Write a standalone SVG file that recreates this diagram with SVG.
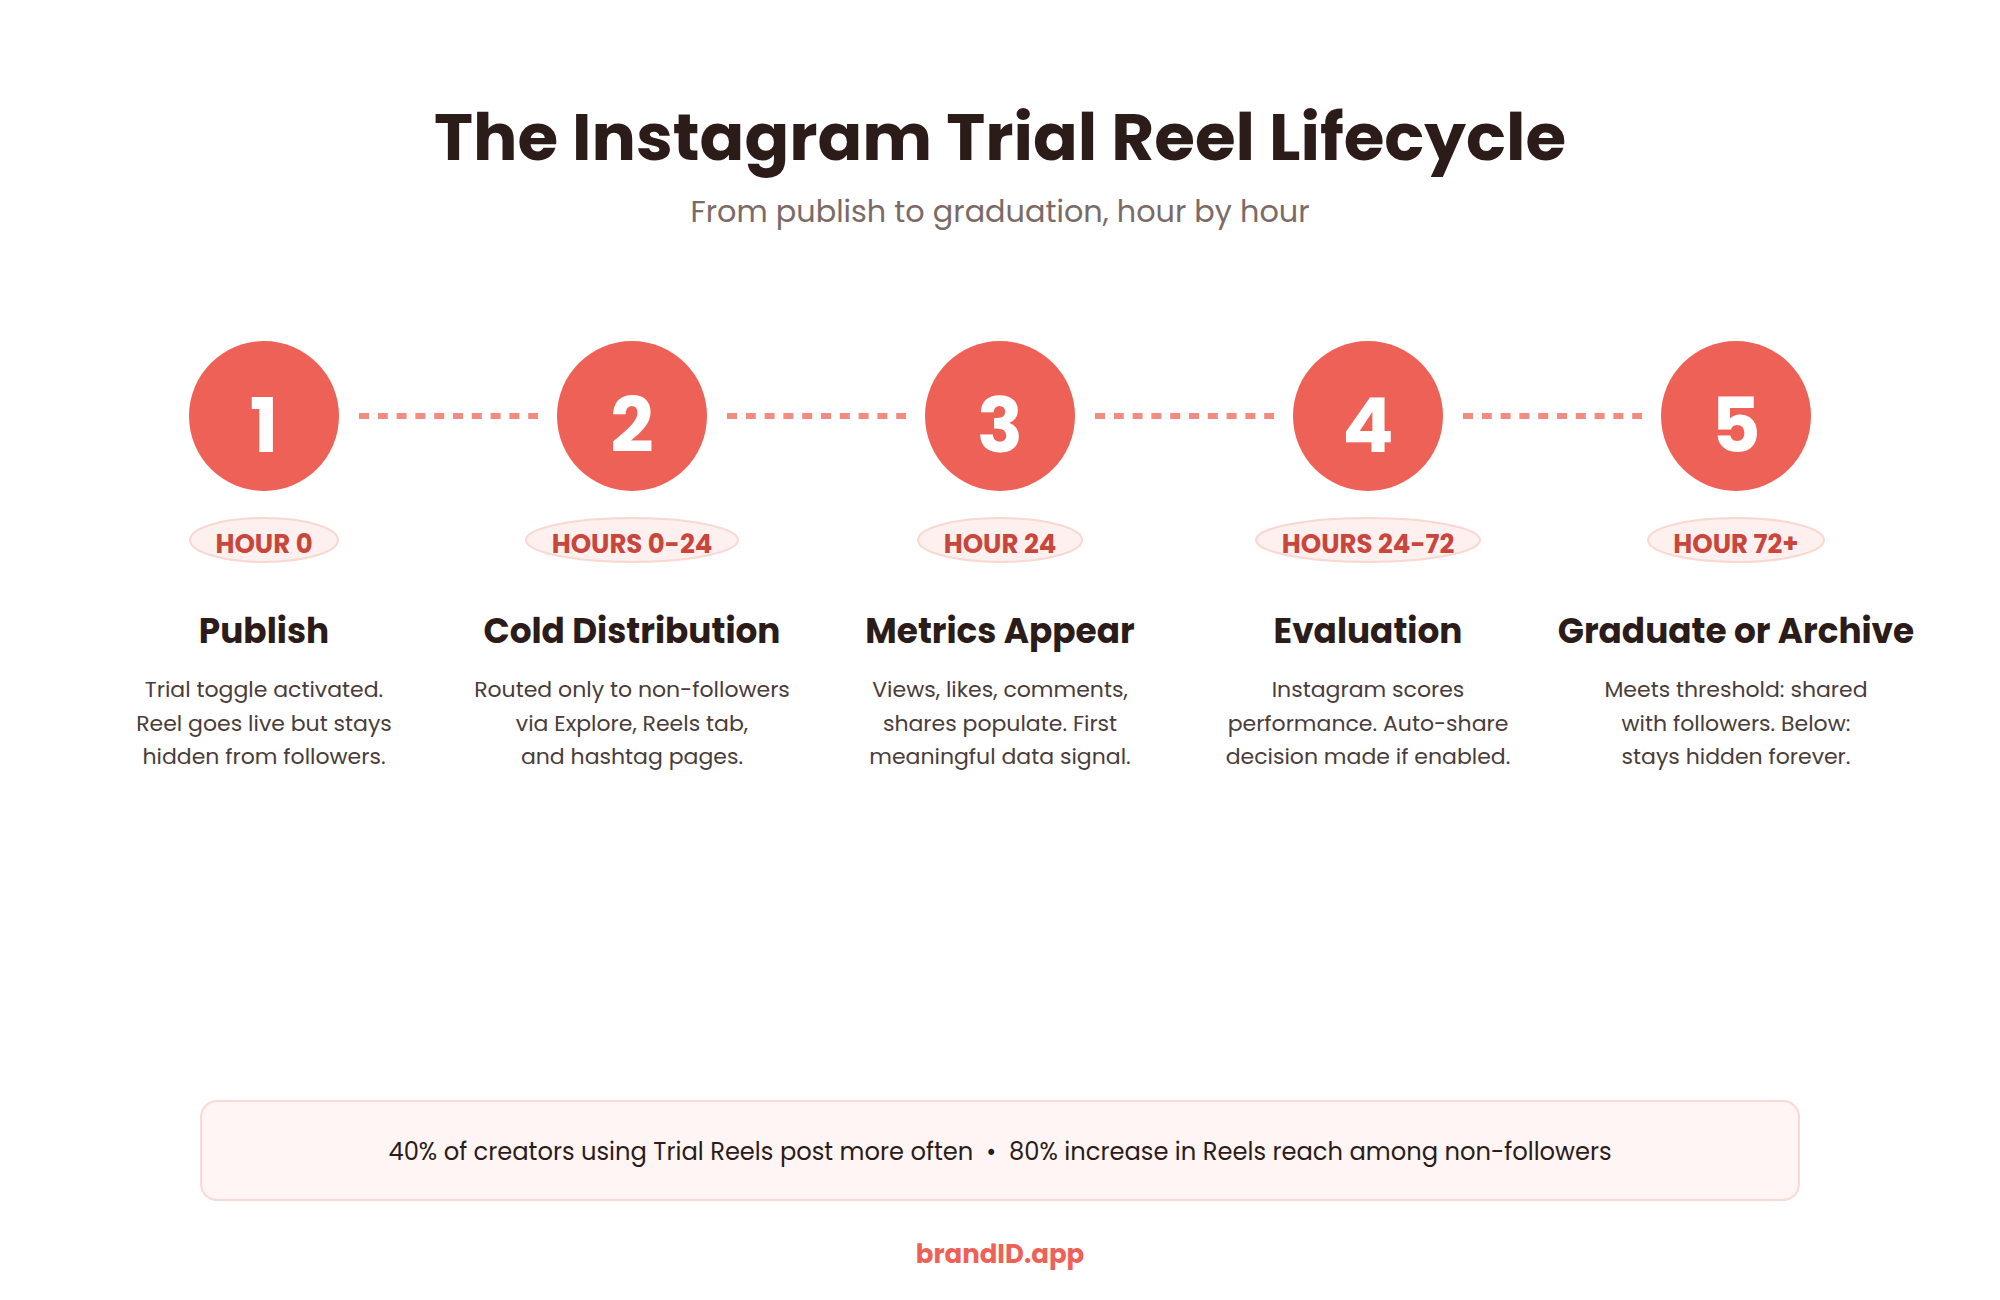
<svg xmlns="http://www.w3.org/2000/svg" width="2000" height="1300" viewBox="0 0 2000 1300">
  <style>
    text { font-family: "Poppins", "Inter", "Open Sans", "Liberation Sans", sans-serif; text-anchor: middle; }
    .title { font-size: 66px; font-weight: 700; fill: #2B1B19; }
    .subtitle { font-size: 30.3px; font-weight: 400; fill: #7B6B67; }
    .circle { fill: #EE6157; }
    .num { font-size: 76px; font-weight: 700; fill: #FFFFFF; }
    .pill { fill: #FDF0EE; stroke: #F8D8D0; stroke-width: 2; }
    .pilltxt { font-size: 26px; font-weight: 700; fill: #C9463D; }
    .head { font-size: 34.3px; font-weight: 700; fill: #2B1B19; }
    .desc { font-size: 22px; font-weight: 400; fill: #4A3C3A; }
    .dash { stroke: #F28C80; stroke-width: 6; stroke-dasharray: 10 8.8; fill: none; }
    .statbox { fill: #FEF5F4; stroke: #F9DAD4; stroke-width: 2; }
    .stat { font-size: 24.2px; font-weight: 400; fill: #2B1B19; }
    .brand { font-size: 26px; font-weight: 700; fill: #EE6157; }
  </style>
  <rect width="2000" height="1300" fill="#FFFFFF"/>
  <g id="header">
    <text class="title" x="1000" y="160">The Instagram Trial Reel Lifecycle</text>
    <text class="subtitle" x="1000" y="222">From publish to graduation, hour by hour</text>
  </g>
  <g id="connectors">
    <line class="dash" x1="359" y1="416" x2="538" y2="416"/>
    <line class="dash" x1="727" y1="416" x2="906" y2="416"/>
    <line class="dash" x1="1095" y1="416" x2="1274" y2="416"/>
    <line class="dash" x1="1463" y1="416" x2="1642" y2="416"/>
  </g>
  <g id="step1">
    <circle class="circle" cx="264" cy="416" r="75"/>
    <text class="num" x="264" y="452">1</text>
    <ellipse class="pill" cx="264" cy="540" rx="74" ry="22"/>
    <text class="pilltxt" x="264" y="553">HOUR 0</text>
    <text class="head" x="264" y="643">Publish</text>
    <text class="desc" x="264" y="697">Trial toggle activated.</text>
    <text class="desc" x="264" y="730.5">Reel goes live but stays</text>
    <text class="desc" x="264" y="764">hidden from followers.</text>
  </g>
  <g id="step2">
    <circle class="circle" cx="632" cy="416" r="75"/>
    <text class="num" x="632" y="452">2</text>
    <ellipse class="pill" cx="632" cy="540" rx="106" ry="22"/>
    <text class="pilltxt" x="632" y="553">HOURS 0-24</text>
    <text class="head" x="632" y="643">Cold Distribution</text>
    <text class="desc" x="632" y="697">Routed only to non-followers</text>
    <text class="desc" x="632" y="730.5">via Explore, Reels tab,</text>
    <text class="desc" x="632" y="764">and hashtag pages.</text>
  </g>
  <g id="step3">
    <circle class="circle" cx="1000" cy="416" r="75"/>
    <text class="num" x="1000" y="452">3</text>
    <ellipse class="pill" cx="1000" cy="540" rx="82" ry="22"/>
    <text class="pilltxt" x="1000" y="553">HOUR 24</text>
    <text class="head" x="1000" y="643">Metrics Appear</text>
    <text class="desc" x="1000" y="697">Views, likes, comments,</text>
    <text class="desc" x="1000" y="730.5">shares populate. First</text>
    <text class="desc" x="1000" y="764">meaningful data signal.</text>
  </g>
  <g id="step4">
    <circle class="circle" cx="1368" cy="416" r="75"/>
    <text class="num" x="1368" y="452">4</text>
    <ellipse class="pill" cx="1368" cy="540" rx="112" ry="22"/>
    <text class="pilltxt" x="1368" y="553">HOURS 24-72</text>
    <text class="head" x="1368" y="643">Evaluation</text>
    <text class="desc" x="1368" y="697">Instagram scores</text>
    <text class="desc" x="1368" y="730.5">performance. Auto-share</text>
    <text class="desc" x="1368" y="764">decision made if enabled.</text>
  </g>
  <g id="step5">
    <circle class="circle" cx="1736" cy="416" r="75"/>
    <text class="num" x="1736" y="452">5</text>
    <ellipse class="pill" cx="1736" cy="540" rx="88" ry="22"/>
    <text class="pilltxt" x="1736" y="553">HOUR 72+</text>
    <text class="head" x="1736" y="643">Graduate or Archive</text>
    <text class="desc" x="1736" y="697">Meets threshold: shared</text>
    <text class="desc" x="1736" y="730.5">with followers. Below:</text>
    <text class="desc" x="1736" y="764">stays hidden forever.</text>
  </g>
  <g id="stats">
    <rect class="statbox" x="201" y="1101" width="1598" height="99" rx="16" ry="16"/>
    <text class="stat" x="1000" y="1160">40% of creators using Trial Reels post more often&#160; •&#160; 80% increase in Reels reach among non-followers</text>
  </g>
  <g id="footer">
    <text class="brand" x="1000" y="1263">brandID.app</text>
  </g>
</svg>
